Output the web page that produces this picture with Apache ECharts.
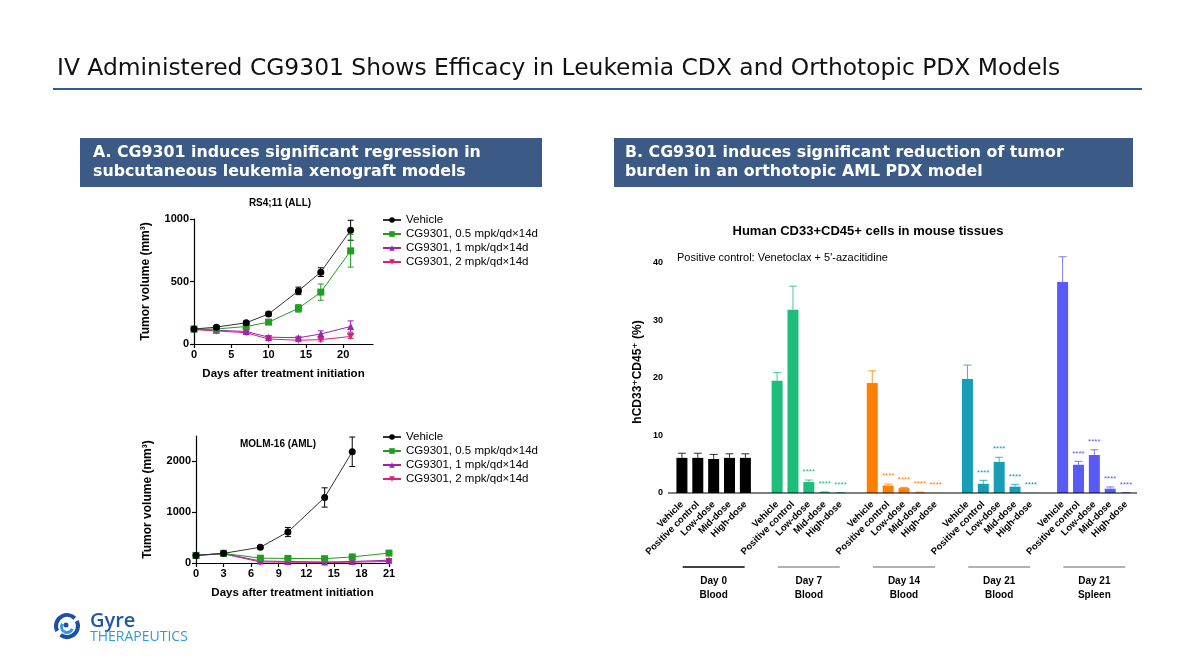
<!DOCTYPE html>
<html>
<head>
<meta charset="utf-8">
<title>CG9301 efficacy</title>
<script src="https://cdn.jsdelivr.net/npm/echarts@6.0.0/dist/echarts.min.js"></script>
<style>
  html, body { margin: 0; padding: 0; background: #fff; }
  #main { width: 1196px; height: 672px; }
</style>
</head>
<body>
<div id="main"></div>
<script>
// ---- data ----
var legendNames = ['Vehicle', 'CG9301, 0.5 mpk/qd\u00d714d', 'CG9301, 1 mpk/qd\u00d714d', 'CG9301, 2 mpk/qd\u00d714d'];

// RS4;11 (ALL), tumor volume mm3
var rsDays = [0, 3, 7, 10, 14, 17, 21];
var rsVehicle = [120, 135, 170, 240, 425, 575, 910];
var rsVehicleSem = [10, 12, 12, 15, 30, 35, 80];
var rsLow = [120, 120, 140, 175, 285, 415, 745];
var rsLowSem = [10, 10, 12, 12, 30, 65, 130];
var rsMid = [120, 110, 100, 55, 50, 80, 140];
var rsMidSem = [8, 10, 12, 12, 12, 25, 45];
var rsHigh = [115, 105, 90, 40, 30, 35, 60];
var rsHighSem = [8, 8, 10, 10, 10, 12, 15];

// MOLM-16 (AML), vehicle stops at day 17
var molmDays = [0, 3, 7, 10, 14, 17, 21];
var molmVehicle = [150, 190, 310, 610, 1290, 2190];
var molmVehicleSem = [20, 20, 30, 90, 190, 290];
var molmLow = [150, 190, 95, 90, 85, 120, 195];
var molmLowSem = [20, 20, 15, 15, 15, 20, 25];
var molmMid = [150, 185, 40, 30, 20, 30, 55];
var molmMidSem = [15, 15, 10, 8, 8, 10, 12];
var molmHigh = [150, 180, 20, 15, 10, 15, 30];
var molmHighSem = [15, 15, 8, 5, 5, 5, 8];

// hCD33+CD45+ (%) by group
var treatments = ['Vehicle', 'Positive control', 'Low-dose', 'Mid-dose', 'High-dose'];
var groupDays = ['Day 0', 'Day 7', 'Day 14', 'Day 21', 'Day 21'];
var groupTissues = ['Blood', 'Blood', 'Blood', 'Blood', 'Spleen'];
var day0Blood = [6.1, 6.1, 5.9, 6.1, 6.1];
var day0BloodSem = [0.8, 0.8, 0.8, 0.7, 0.7];
var day7Blood = [19.5, 31.8, 1.9, 0.15, 0.05];
var day7BloodSem = [1.4, 4.1, 0.35, 0.05, 0.02];
var day14Blood = [19.1, 1.3, 0.85, 0.1, 0.03];
var day14BloodSem = [2.1, 0.25, 0.12, 0.05, 0];
var day21Blood = [19.8, 1.6, 5.4, 1.1, 0.03];
var day21BloodSem = [2.4, 0.6, 0.8, 0.4, 0];
var day21Spleen = [36.6, 4.9, 6.6, 0.75, 0.05];
var day21SpleenSem = [4.4, 0.6, 0.9, 0.3, 0.02];
// 1 = marked **** vs vehicle
var day0Sig = [0, 0, 0, 0, 0];
var day7Sig = [0, 0, 1, 1, 1];
var day14Sig = [0, 1, 1, 1, 1];
var day21Sig = [0, 1, 1, 1, 1];
var spleenSig = [0, 1, 1, 1, 1];

var groupMeans = [day0Blood, day7Blood, day14Blood, day21Blood, day21Spleen];
var groupSems = [day0BloodSem, day7BloodSem, day14BloodSem, day21BloodSem, day21SpleenSem];
var groupSigs = [day0Sig, day7Sig, day14Sig, day21Sig, spleenSig];
var groupColors = ['#000000', '#1fbd7c', '#ff8000', '#179db6', '#5a5af6'];

var FONT = '"Liberation Sans", Arial, "DejaVu Sans", sans-serif';
var chart = echarts.init(document.getElementById('main'));

function pairs(xs, ys) {
    return ys.map(function (v, i) { return [xs[i], v]; });
}

function lineSeries(name, xs, ys, color, symbol, idx, rotate) {
    return {
        name: name, type: 'line', xAxisIndex: idx, yAxisIndex: idx,
        data: pairs(xs, ys), symbol: symbol, symbolSize: 7, symbolRotate: rotate || 0,
        lineStyle: { color: name === 'Vehicle' ? '#333' : color, width: 1 },
        itemStyle: { color: color }, z: 4, silent: true
    };
}

// two-sided SEM whiskers
function errSeries(xs, ys, sems, color, idx) {
    return {
        type: 'custom', xAxisIndex: idx, yAxisIndex: idx, z: 3, silent: true,
        data: ys.map(function (v, i) { return [xs[i], v - sems[i], v + sems[i]]; }),
        renderItem: function (params, api) {
            var lo = api.coord([api.value(0), api.value(1)]);
            var hi = api.coord([api.value(0), api.value(2)]);
            var st = { stroke: color, lineWidth: 1 };
            return {
                type: 'group', children: [
                    { type: 'line', shape: { x1: lo[0], y1: lo[1], x2: hi[0], y2: hi[1] }, style: st },
                    { type: 'line', shape: { x1: lo[0] - 3, y1: lo[1], x2: lo[0] + 3, y2: lo[1] }, style: st },
                    { type: 'line', shape: { x1: hi[0] - 3, y1: hi[1], x2: hi[0] + 3, y2: hi[1] }, style: st }
                ]
            };
        }
    };
}

// categories for the bar chart, a blank slot between groups
var barCats = [], barData = [], barErr = [], catGroup = [];
groupMeans.forEach(function (means, g) {
    means.forEach(function (v, i) {
        barCats.push(treatments[i]);
        catGroup.push(g);
        barData.push({ value: v, itemStyle: { color: groupColors[g] } });
        barErr.push([barCats.length - 1, v, v + groupSems[g][i], groupSigs[g][i], g]);
    });
    if (g < groupMeans.length - 1) {
        barCats.push('');
        catGroup.push(-1);
        barData.push('-');
    }
});

var plain = function (v) { return String(v); };
var axisBase = {
    axisLine: { lineStyle: { color: '#000', width: 1.2 } },
    axisTick: { length: 4, lineStyle: { color: '#000', width: 1.2 } },
    axisLabel: { color: '#000', fontFamily: FONT, fontWeight: 'bold', fontSize: 11, margin: 5 },
    splitLine: { show: false }
};
function ax(extra) {
    var a = echarts.util.merge(echarts.util.clone(axisBase), extra, true);
    if (a.type === 'value') a.axisLabel.formatter = plain;
    return a;
}

var legendBase = {
    orient: 'vertical', itemWidth: 18, itemHeight: 7, itemGap: 0, padding: 0,
    textStyle: { fontFamily: FONT, fontSize: 11.5, color: '#000', lineHeight: 14 },
    data: legendNames, selectedMode: false
};

var option = {
    animation: false,
    grid: [
        { left: 194, top: 219, width: 179, height: 125 },
        { left: 196, top: 436, width: 193, height: 127 },
        { left: 674, top: 251, width: 460, height: 242 }
    ],
    xAxis: [
        ax({ type: 'value', gridIndex: 0, min: 0, max: 24,
             axisLabel: { customValues: [0, 5, 10, 15, 20] }, axisTick: { customValues: [0, 5, 10, 15, 20] },
             name: 'Days after treatment initiation', nameLocation: 'middle', nameGap: 24,
             nameTextStyle: { fontFamily: FONT, fontWeight: 'bold', fontSize: 11.5, color: '#000' } }),
        ax({ type: 'value', gridIndex: 1, min: 0, max: 21, interval: 3,
             name: 'Days after treatment initiation', nameLocation: 'middle', nameGap: 24,
             nameTextStyle: { fontFamily: FONT, fontWeight: 'bold', fontSize: 11.5, color: '#000' } }),
        ax({ type: 'category', gridIndex: 2, data: barCats, boundaryGap: true,
             axisLine: { show: false }, axisTick: { show: false },
             axisLabel: { interval: 0, rotate: 45, fontSize: 9.5, margin: 10 } })
    ],
    yAxis: [
        ax({ type: 'value', gridIndex: 0, min: 0, max: 1000, interval: 500,
             name: 'Tumor volume (mm\u00b3)', nameLocation: 'middle', nameGap: 42,
             nameTextStyle: { fontFamily: FONT, fontWeight: 'bold', fontSize: 12, color: '#000' } }),
        ax({ type: 'value', gridIndex: 1, min: 0, max: 2500,
             axisLabel: { customValues: [0, 1000, 2000] }, axisTick: { customValues: [0, 1000, 2000] },
             name: 'Tumor volume (mm\u00b3)', nameLocation: 'middle', nameGap: 42,
             nameTextStyle: { fontFamily: FONT, fontWeight: 'bold', fontSize: 12, color: '#000' } }),
        ax({ type: 'value', gridIndex: 2, min: 0, max: 42, offset: 6,
             axisLabel: { customValues: [0, 10, 20, 30, 40], fontSize: 9 },
             axisTick: { customValues: [0, 10, 20, 30, 40] },
             name: 'hCD33\u207aCD45\u207a (%)', nameLocation: 'middle', nameGap: 24,
             nameTextStyle: { fontFamily: FONT, fontWeight: 'bold', fontSize: 12, color: '#000' } })
    ],
    legend: [
        echarts.util.merge({ left: 382, top: 213 }, echarts.util.clone(legendBase)),
        echarts.util.merge({ left: 382, top: 430 }, echarts.util.clone(legendBase))
    ],
    series: [
        errSeries(rsDays, rsVehicle, rsVehicleSem, '#000', 0),
        errSeries(rsDays, rsLow, rsLowSem, '#1f9e1f', 0),
        errSeries(rsDays, rsMid, rsMidSem, '#9b22b8', 0),
        errSeries(rsDays, rsHigh, rsHighSem, '#dc2070', 0),
        lineSeries(legendNames[3], rsDays, rsHigh, '#dc2070', 'triangle', 0, 180),
        lineSeries(legendNames[2], rsDays, rsMid, '#9b22b8', 'triangle', 0),
        lineSeries(legendNames[1], rsDays, rsLow, '#1f9e1f', 'rect', 0),
        lineSeries(legendNames[0], rsDays, rsVehicle, '#000', 'circle', 0),

        errSeries(molmDays, molmVehicle, molmVehicleSem, '#000', 1),
        errSeries(molmDays, molmLow, molmLowSem, '#1f9e1f', 1),
        errSeries(molmDays, molmMid, molmMidSem, '#9b22b8', 1),
        errSeries(molmDays, molmHigh, molmHighSem, '#dc2070', 1),
        lineSeries(legendNames[3], molmDays, molmHigh, '#dc2070', 'triangle', 1, 180),
        lineSeries(legendNames[2], molmDays, molmMid, '#9b22b8', 'triangle', 1),
        lineSeries(legendNames[1], molmDays, molmLow, '#1f9e1f', 'rect', 1),
        lineSeries(legendNames[0], molmDays, molmVehicle, '#000', 'circle', 1),

        {
            type: 'bar', xAxisIndex: 2, yAxisIndex: 2, data: barData, barWidth: 11, silent: true, z: 2
        },
        {
            // upper SEM whisker and significance stars
            type: 'custom', xAxisIndex: 2, yAxisIndex: 2, data: barErr, z: 3, silent: true,
            renderItem: function (params, api) {
                var g = api.value(4);
                var color = groupColors[g];
                var base = api.coord([api.value(0), api.value(1)]);
                var top = api.coord([api.value(0), api.value(2)]);
                var st = { stroke: color, lineWidth: 1, opacity: 0.8 };
                var kids = [];
                if (api.value(2) - api.value(1) > 0.01) {
                    kids.push({ type: 'line', shape: { x1: base[0], y1: base[1], x2: top[0], y2: top[1] }, style: st });
                    kids.push({ type: 'line', shape: { x1: top[0] - 4, y1: top[1], x2: top[0] + 4, y2: top[1] }, style: st });
                }
                if (api.value(3)) {
                    kids.push({ type: 'text', x: top[0], y: top[1] - 8,
                        style: { text: '****', fill: color, font: '8px ' + FONT,
                                 align: 'center', verticalAlign: 'middle', textAlign: 'center', textVerticalAlign: 'middle' } });
                }
                return { type: 'group', children: kids };
            }
        }
    ]
};
chart.setOption(option);

// ---- slide furniture and bar-group labels ----
function txt(x, y, text, font, fill, align, valign) {
    return { type: 'text', x: x, y: y, silent: true,
        style: { text: text, font: font, fill: fill || '#000',
                 align: align || 'left', verticalAlign: valign || 'middle',
                 textAlign: align || 'left', textVerticalAlign: valign || 'middle' } };
}

var BOXFONT = 'bold 15.8px "DejaVu Sans", Verdana, sans-serif';
var gfx = [];
gfx.push(txt(57, 69, 'IV Administered CG9301 Shows Efficacy in Leukemia CDX and Orthotopic PDX Models', '23.4px "DejaVu Sans", sans-serif', '#111'));
gfx.push({ type: 'line', shape: { x1: 53, y1: 89, x2: 1142, y2: 89 }, style: { stroke: '#2e5aa2', lineWidth: 2 } });

gfx.push({ type: 'rect', shape: { x: 80, y: 138, width: 462, height: 49 }, style: { fill: '#3b5b86' } });
gfx.push(txt(93, 153, 'A. CG9301 induces significant regression in', BOXFONT, '#fff'));
gfx.push(txt(93, 172, 'subcutaneous leukemia xenograft models', BOXFONT, '#fff'));
gfx.push({ type: 'rect', shape: { x: 614, y: 138, width: 519, height: 49 }, style: { fill: '#3b5b86' } });
gfx.push(txt(625, 153, 'B. CG9301 induces significant reduction of tumor', BOXFONT, '#fff'));
gfx.push(txt(625, 172, 'burden in an orthotopic AML PDX model', BOXFONT, '#fff'));

gfx.push(txt(280, 203, 'RS4;11 (ALL)', 'bold 10px ' + FONT, '#000', 'center'));
gfx.push(txt(278, 444, 'MOLM-16 (AML)', 'bold 10px ' + FONT, '#000', 'center'));
gfx.push(txt(868, 231, 'Human CD33+CD45+ cells in mouse tissues', 'bold 13px ' + FONT, '#000', 'center'));
gfx.push(txt(677, 258, "Positive control: Venetoclax + 5'-azacitidine", '11px ' + FONT, '#000'));

// x axis line of the bar chart, drawn from the y axis to the end
var y0 = chart.convertToPixel({ yAxisIndex: 2 }, 0);
gfx.push({ type: 'line', shape: { x1: 668, y1: y0, x2: 1137, y2: y0 }, style: { stroke: '#000', lineWidth: 1.2 }, z: 10 });

groupDays.forEach(function (d, g) {
    var first = catGroup.indexOf(g);
    var xa = chart.convertToPixel({ xAxisIndex: 2 }, first);
    var xb = chart.convertToPixel({ xAxisIndex: 2 }, first + 4);
    var cx = (xa + xb) / 2;
    gfx.push({ type: 'line', shape: { x1: cx - 31, y1: 567, x2: cx + 31, y2: 567 },
        style: { stroke: g === 0 ? '#000' : '#999', lineWidth: 1.5 } });
    gfx.push(txt(cx, 581, d, 'bold 10px ' + FONT, '#000', 'center'));
    gfx.push(txt(cx, 595, groupTissues[g], 'bold 10px ' + FONT, '#000', 'center'));
});

// Gyre logo
gfx.push({ type: 'arc', shape: { cx: 67, cy: 626, r: 11, startAngle: Math.PI * 0.85, endAngle: Math.PI * 1.75 }, style: { stroke: '#1d50a3', lineWidth: 4, fill: null } });
gfx.push({ type: 'arc', shape: { cx: 67, cy: 626, r: 11, startAngle: -Math.PI * 0.15, endAngle: Math.PI * 0.7 }, style: { stroke: '#1d50a3', lineWidth: 4, fill: null } });
gfx.push({ type: 'arc', shape: { cx: 67, cy: 627, r: 5.5, startAngle: Math.PI * 0.1, endAngle: Math.PI * 1.2 }, style: { stroke: '#2f9be0', lineWidth: 3, fill: null } });
gfx.push({ type: 'circle', shape: { cx: 66, cy: 625, r: 2.5 }, style: { fill: '#1d50a3' } });
gfx.push(txt(90, 621, 'Gyre', '600 20px "Open Sans", sans-serif', '#2156a5'));
gfx.push(txt(90, 637, 'THERAPEUTICS', '14px "Open Sans", sans-serif', '#2f9ad8'));

chart.setOption({ graphic: { elements: gfx } });
</script>
</body>
</html>
